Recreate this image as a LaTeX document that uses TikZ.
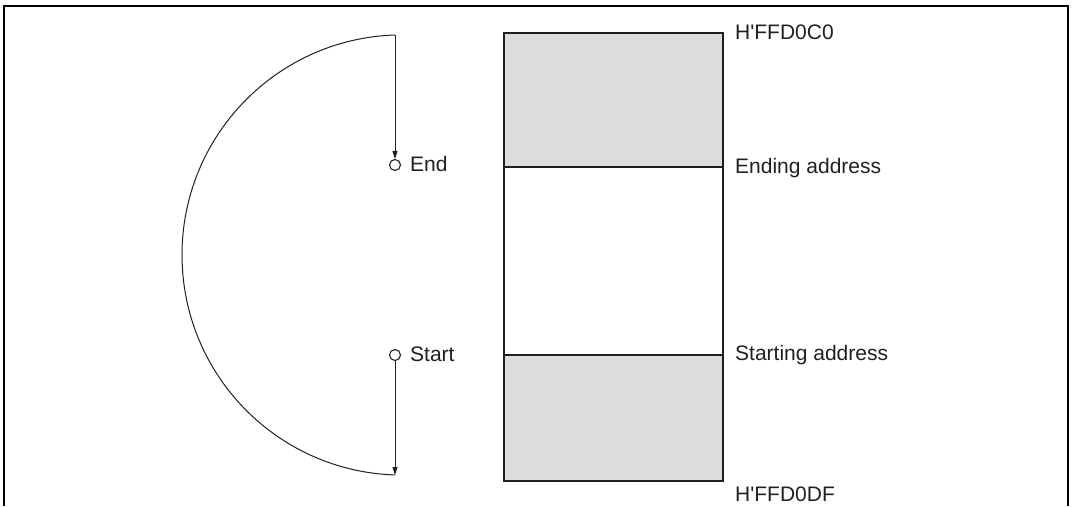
\documentclass[tikz,border=0pt]{standalone}
\usepackage{fontspec}
\setmainfont{Liberation Sans}
\usetikzlibrary{arrows.meta}
\definecolor{memgray}{RGB}{220,221,222}
\definecolor{txt}{RGB}{35,31,32}
\begin{document}
\begin{tikzpicture}[x=1pt,y=1pt,
  lbl/.style={anchor=west,inner sep=0pt,text=txt,font=\fontsize{21}{24}\selectfont},
  pin/.style={circle,draw=txt,line width=1.1pt,inner sep=0pt,minimum size=11pt},
  flow/.style={line width=1pt,draw=txt},
  flowarrow/.style={flow,-{Triangle[length=8pt,width=5pt]}},
  memline/.style={line width=1.2pt,draw=txt}]
\useasboundingbox (0,0) rectangle (1073,506);
% frame
\draw[line width=2pt,black] (3.5,0) -- (3.5,499.5) -- (1068,499.5) -- (1068,0);
% arc and flow
\coordinate (top) at (395,471);
\coordinate (bot) at (395,31);
\node[pin] (endc) at (395,341) {};
\node[pin] (startc) at (395,151) {};
\node[lbl] (endl) at (410,342) {End};
\node[lbl] (startl) at (410,152) {Start};
\draw[flowarrow] (top) -- (endc.north);
\draw[flowarrow] (startc.south) -- (bot);
\draw[flow] (top) arc[start angle=91.85,end angle=268.15,radius=220.1];
% memory block
\coordinate (rtl) at (504,473);
\coordinate (rtr) at (723,473);
\coordinate (rel) at (504,339);
\coordinate (rer) at (723,339);
\coordinate (rsl) at (504,151);
\coordinate (rsr) at (723,151);
\coordinate (rbl) at (504,25);
\coordinate (rbr) at (723,25);
\fill[memgray] (rel) rectangle (rtr);
\fill[memgray] (rbl) rectangle (rsr);
\draw[memline] (rbl) rectangle (rtr);
\draw[memline] (rel) -- (rer);
\draw[memline] (rsl) -- (rsr);
% labels
\node[lbl] (ltop) at (735,474) {H\textquotesingle FFD0C0};
\node[lbl] (lend) at (735,338) {Ending address};
\node[lbl] (lstart) at (735,151) {Starting address};
\node[lbl] (lbot) at (735,12) {H\textquotesingle FFD0DF};
\end{tikzpicture}
\end{document}
